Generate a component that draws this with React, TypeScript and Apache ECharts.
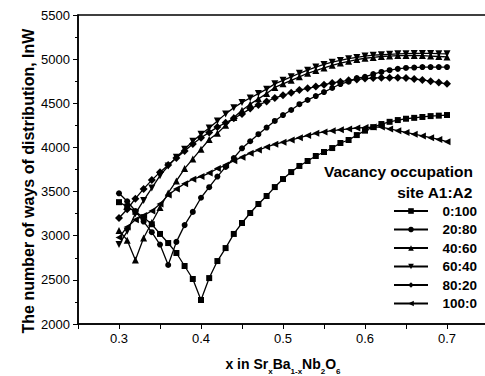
import React, { useEffect, useRef } from "react";
import * as echarts from "echarts";

const xValues = [
  0.3, 0.31, 0.32, 0.33, 0.34, 0.35, 0.36, 0.37, 0.38, 0.39,
  0.4, 0.41, 0.42, 0.43, 0.44, 0.45, 0.46, 0.47, 0.48, 0.49,
  0.5, 0.51, 0.52, 0.53, 0.54, 0.55, 0.56, 0.57, 0.58, 0.59,
  0.6, 0.61, 0.62, 0.63, 0.64, 0.65, 0.66, 0.67, 0.68, 0.69, 0.7,
];

const s0_100 = [
  3380, 3330, 3270, 3210, 3130, 3020, 2917, 2804, 2657, 2510,
  2272, 2520, 2713, 2860, 3020, 3144, 3257, 3359, 3450, 3551,
  3642, 3721, 3790, 3846, 3903, 3948, 3993, 4050, 4084, 4140,
  4190, 4230, 4265, 4290, 4310, 4325, 4335, 4345, 4355, 4360, 4367,
];
const s20_80 = [
  3480, 3390, 3280, 3160, 3040, 2900, 2668, 2930, 3120, 3270,
  3430, 3550, 3670, 3780, 3880, 3990, 4070, 4150, 4225, 4300,
  4367, 4424, 4490, 4537, 4582, 4627, 4673, 4718, 4745, 4786,
  4800, 4830, 4855, 4875, 4890, 4900, 4905, 4910, 4910, 4910, 4910,
];
const s40_60 = [
  3060, 2950, 2725, 2974, 3150, 3320, 3484, 3620, 3760, 3870,
  3980, 4090, 4160, 4250, 4340, 4420, 4490, 4550, 4610, 4680,
  4720, 4760, 4800, 4840, 4870, 4900, 4930, 4955, 4975, 4995,
  5010, 5020, 5030, 5035, 5040, 5040, 5040, 5040, 5035, 5030, 5025,
];
const s60_40 = [
  2900, 3050, 3250, 3400, 3540, 3680, 3790, 3890, 3980, 4070,
  4150, 4220, 4300, 4380, 4450, 4510, 4560, 4610, 4660, 4720,
  4760, 4800, 4840, 4875, 4910, 4940, 4965, 4985, 5005, 5020,
  5035, 5045, 5050, 5055, 5060, 5062, 5064, 5065, 5065, 5062, 5060,
];
const s80_20 = [
  3200, 3300, 3420, 3530, 3630, 3720, 3800, 3880, 3960, 4040,
  4110, 4170, 4230, 4280, 4330, 4380, 4440, 4480, 4520, 4560,
  4590, 4620, 4650, 4670, 4690, 4710, 4730, 4745, 4760, 4770,
  4780, 4785, 4790, 4790, 4790, 4785, 4775, 4765, 4750, 4735, 4720,
];
const s100_0 = [
  2980, 3100, 3180, 3230, 3280, 3360, 3460, 3530, 3590, 3640,
  3670, 3710, 3760, 3800, 3850, 3890, 3935, 3970, 4005, 4035,
  4060, 4084, 4110, 4135, 4160, 4175, 4190, 4200, 4210, 4220,
  4225, 4230, 4230, 4210, 4190, 4170, 4150, 4130, 4110, 4090, 4065,
];

const seriesNames = ["0:100", "20:80", "40:60", "60:40", "80:20", "100:0"];
const seriesData = [s0_100, s20_80, s40_60, s60_40, s80_20, s100_0];
const seriesSymbols = ["rect", "circle", "triangle", "triangle", "diamond", "triangle"];
const seriesRotations = [0, 0, 0, 180, 0, 90];
const seriesSizes = [6, 6, 7, 7, 8, 7];

const FONT = "'Liberation Sans', Arial, sans-serif";

export default function App() {
  const ref = useRef<HTMLDivElement>(null);
  useEffect(() => {
    if (!ref.current) return;
    document.body.style.margin = "0";
    document.body.style.overflow = "hidden";
    const chart = echarts.init(ref.current, undefined, { renderer: "svg" });
    const series = seriesNames.map((name, i) => ({
      name,
      type: "line",
      data: xValues.map((x, j) => [x, seriesData[i][j]]),
      symbol: seriesSymbols[i],
      symbolRotate: seriesRotations[i],
      symbolSize: seriesSizes[i],
      showAllSymbol: true,
      lineStyle: { color: "#000", width: 1.3 },
      itemStyle: { color: "#000", borderWidth: 0 },
      emphasis: { disabled: true },
    }));
    chart.setOption({
      animation: false,
      backgroundColor: "#fff",
      textStyle: { fontFamily: FONT },
      grid: {
        left: 78,
        top: 15,
        right: -3,
        bottom: 52,
        outerBoundsMode: "none",
        containLabel: false,
        show: true,
        borderColor: "#000",
        borderWidth: 1.5,
        backgroundColor: "transparent",
      },
      graphic: [
        {
          type: "text",
          right: 12,
          top: 163,
          style: {
            text: "Vacancy occupation",
            font: `bold 15.5px ${FONT}`,
            fill: "#000",
          },
        },
        {
          type: "text",
          right: 12,
          top: 184,
          style: {
            text: "site A1:A2",
            font: `bold 15.5px ${FONT}`,
            fill: "#000",
          },
        },
        {
          type: "text",
          x: 28,
          y: 181,
          rotation: Math.PI / 2,
          style: {
            text: "The number of ways of distribution, lnW",
            font: `bold 16px ${FONT}`,
            fill: "#000",
            align: "center",
            verticalAlign: "middle",
          },
        },
      ],
      legend: {
        orient: "vertical",
        left: 388,
        top: 199,
        itemWidth: 34,
        itemHeight: 7,
        itemGap: 4.5,
        selectedMode: false,
        data: seriesNames,
        textStyle: {
          fontFamily: FONT,
          fontWeight: "bold",
          fontSize: 13.5,
          color: "#000",
          lineHeight: 14,
          rich: {
            r: {
              width: 44,
              align: "right",
              fontFamily: FONT,
              fontWeight: "bold",
              fontSize: 13.5,
              lineHeight: 14,
            },
          },
        },
        formatter: (n: string) => `{r|${n}}`,
      },
      xAxis: {
        type: "value",
        min: 0.25,
        max: 0.75,
        interval: 0.05,
        name: "{a|x in Sr}{s|x}{a|Ba}{s|1-x}{a|Nb}{s|2}{a|O}{s|6}",
        nameLocation: "middle",
        nameGap: 33,
        nameTextStyle: {
          rich: {
            a: { fontFamily: FONT, fontWeight: "bold", fontSize: 14, color: "#000", lineHeight: 18, verticalAlign: "top" },
            s: { fontFamily: FONT, fontWeight: "bold", fontSize: 8, color: "#000", lineHeight: 18, verticalAlign: "bottom", padding: [10, 0, 0, 0] },
          },
        },
        axisLine: { lineStyle: { color: "#000", width: 1.5 } },
        axisTick: { show: true, length: 5, lineStyle: { color: "#000", width: 1 } },
        minorTick: { show: false },
        splitLine: { show: false },
        axisLabel: {
          color: "#000",
          fontSize: 13,
          fontFamily: FONT,
          margin: 8,
          formatter: (v: number) => {
            const r = Math.round(v * 100);
            if (r % 10 !== 0 || r === 20 || r === 80) return "";
            return (r / 100).toFixed(1);
          },
        },
      },
      yAxis: {
        type: "value",
        min: 2000,
        max: 5500,
        interval: 500,
        axisLine: { show: true, lineStyle: { color: "#000", width: 1.5 } },
        axisTick: { show: true, length: 5, lineStyle: { color: "#000", width: 1 } },
        minorTick: { show: true, splitNumber: 2, length: 3, lineStyle: { color: "#000", width: 1 } },
        splitLine: { show: false },
        axisLabel: {
          color: "#000",
          fontSize: 13,
          fontFamily: FONT,
          margin: 8,
          formatter: (v: number) => String(Math.round(v)),
        },
      },
      series,
    });
    return () => chart.dispose();
  }, []);
  return (
    <div
      ref={ref}
      style={{
        position: "absolute",
        left: 0,
        top: 0,
        width: 485,
        height: 376,
        overflow: "hidden",
        background: "#fff",
      }}
    />
  );
}
